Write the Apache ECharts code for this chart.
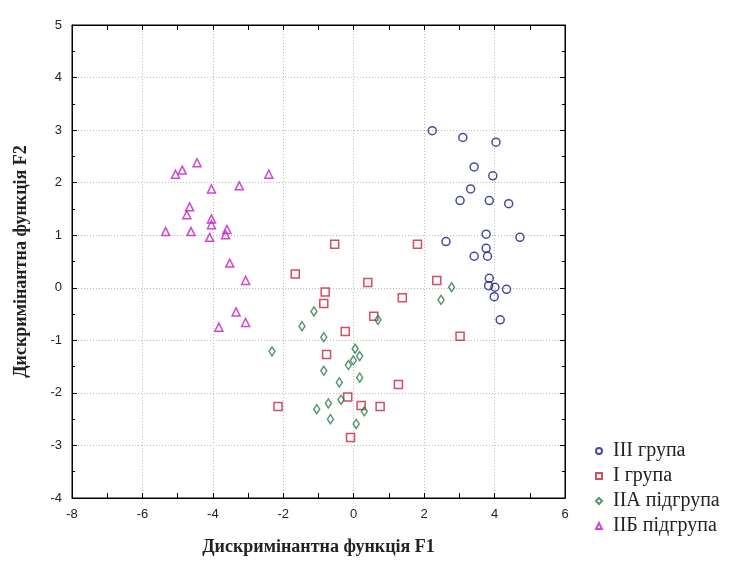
<!DOCTYPE html>
<html><head><meta charset="utf-8">
<script src="https://cdn.jsdelivr.net/npm/echarts@6/dist/echarts.min.js"></script>
<style>html,body{margin:0;padding:0;background:#fff;}#c{width:731px;height:562px;}</style>
</head><body><div id="c"></div>
<script>
const seriesNames = ['III група', 'I група', 'IIA підгрупа', 'IIБ підгрупа'];
const groupIII = [[2.23,2.99],[3.10,2.86],[4.04,2.77],[3.42,2.30],[3.95,2.13],[3.32,1.88],[3.02,1.66],[3.85,1.66],[4.40,1.60],[3.76,1.02],[4.72,0.96],[2.62,0.88],[3.76,0.75],[3.42,0.60],[3.80,0.60],[3.85,0.18],[3.83,0.04],[4.01,0.01],[4.34,-0.03],[3.99,-0.17],[4.16,-0.61]];
const groupI = [[-0.54,0.83],[1.81,0.83],[-1.66,0.26],[0.40,0.10],[2.36,0.14],[-0.81,-0.08],[-0.85,-0.30],[1.38,-0.19],[0.57,-0.54],[-0.24,-0.83],[3.02,-0.92],[-0.77,-1.27],[1.27,-1.84],[-0.17,-2.08],[-2.15,-2.26],[0.21,-2.24],[0.75,-2.26],[-0.09,-2.85]];
const groupIIA = [[2.78,0.01],[2.48,-0.23],[0.69,-0.61],[-1.13,-0.45],[-1.47,-0.73],[-0.85,-0.94],[-2.32,-1.21],[0.04,-1.16],[0.17,-1.30],[-0.01,-1.38],[-0.15,-1.47],[-0.85,-1.58],[0.17,-1.71],[-0.41,-1.80],[-0.72,-2.20],[-0.36,-2.13],[-1.05,-2.31],[0.30,-2.35],[-0.66,-2.50],[0.07,-2.59]];
const groupIIB = [[-4.45,2.38],[-4.87,2.24],[-5.06,2.16],[-2.41,2.16],[-3.25,1.94],[-4.04,1.88],[-4.66,1.54],[-4.74,1.39],[-4.04,1.31],[-4.04,1.20],[-3.60,1.11],[-3.64,1.01],[-5.34,1.07],[-4.62,1.07],[-4.09,0.96],[-3.52,0.47],[-3.07,0.14],[-3.34,-0.46],[-3.07,-0.66],[-3.83,-0.75]];
const xTitle = 'Дискримінантна функція F1';
const yTitle = 'Дискримінантна функція F2';

const colors = ['#1c1c8a', '#cc1f3a', '#2b7a4b', '#c21cc2'];
const symbols = ['circle', 'rect', 'diamond', 'triangle'];
const sizes = [8, 8, [6, 9], 8];
const datasets = [groupIII, groupI, groupIIA, groupIIB];

const chart = echarts.init(document.getElementById('c'));
const labelFont = {color: '#222', fontFamily: 'Liberation Sans', fontSize: 13};
const titleFont = {color: '#222', fontFamily: 'Liberation Serif', fontSize: 18, fontWeight: 'bold'};
const gridLine = {show: true, lineStyle: {color: '#bbb', type: [1, 2], width: 1}};
const axLine = {show: true, onZero: false, lineStyle: {color: '#000'}};
chart.setOption({
  backgroundColor: '#fff',
  animation: false,
  grid: {left: 72, top: 25, width: 493, height: 473, show: true, borderColor: '#000', borderWidth: 1, backgroundColor: 'transparent'},
  legend: {
    orient: 'vertical', left: 590, top: 436, itemGap: 5, itemWidth: 6, itemHeight: 6,
    textStyle: {fontFamily: 'Liberation Serif', fontSize: 20, color: '#222', padding: [0, 0, 0, 6]},
    data: seriesNames
  },
  xAxis: [{
    type: 'value', min: -8, max: 6, interval: 2,
    name: xTitle, nameLocation: 'middle', nameGap: 40, nameTextStyle: titleFont,
    axisLine: axLine,
    axisTick: {show: true, inside: true, length: 5, lineStyle: {color: '#000'}},
    minorTick: {show: true, splitNumber: 2, length: 5, lineStyle: {color: '#000'}},
    axisLabel: Object.assign({margin: 10}, labelFont),
    splitLine: gridLine
  }, {
    type: 'value', min: -8, max: 6, interval: 2, position: 'top',
    axisLine: axLine,
    axisTick: {show: true, inside: true, length: 5, lineStyle: {color: '#000'}},
    minorTick: {show: true, splitNumber: 2, length: 5, lineStyle: {color: '#000'}},
    axisLabel: {show: false}, splitLine: {show: false}
  }],
  yAxis: [{
    type: 'value', min: -4, max: 5, interval: 1,
    name: yTitle, nameLocation: 'middle', nameGap: 42, nameTextStyle: titleFont,
    axisLine: axLine,
    axisTick: {show: true, inside: true, length: 5, lineStyle: {color: '#000'}},
    minorTick: {show: true, splitNumber: 2, length: 3, lineStyle: {color: '#000'}},
    axisLabel: Object.assign({margin: 10}, labelFont),
    splitLine: gridLine
  }, {
    type: 'value', min: -4, max: 5, interval: 1, position: 'right',
    axisLine: axLine,
    axisTick: {show: true, inside: true, length: 5, lineStyle: {color: '#000'}},
    minorTick: {show: true, splitNumber: 2, length: 3, lineStyle: {color: '#000'}},
    axisLabel: {show: false}, splitLine: {show: false}
  }],
  series: datasets.map((d, i) => ({
    name: seriesNames[i], type: 'scatter', data: d,
    symbol: symbols[i], symbolSize: sizes[i],
    itemStyle: {color: 'rgba(255,255,255,0)', borderColor: colors[i], borderWidth: 1.5},
    emphasis: {disabled: true}
  }))
});
</script></body></html>
